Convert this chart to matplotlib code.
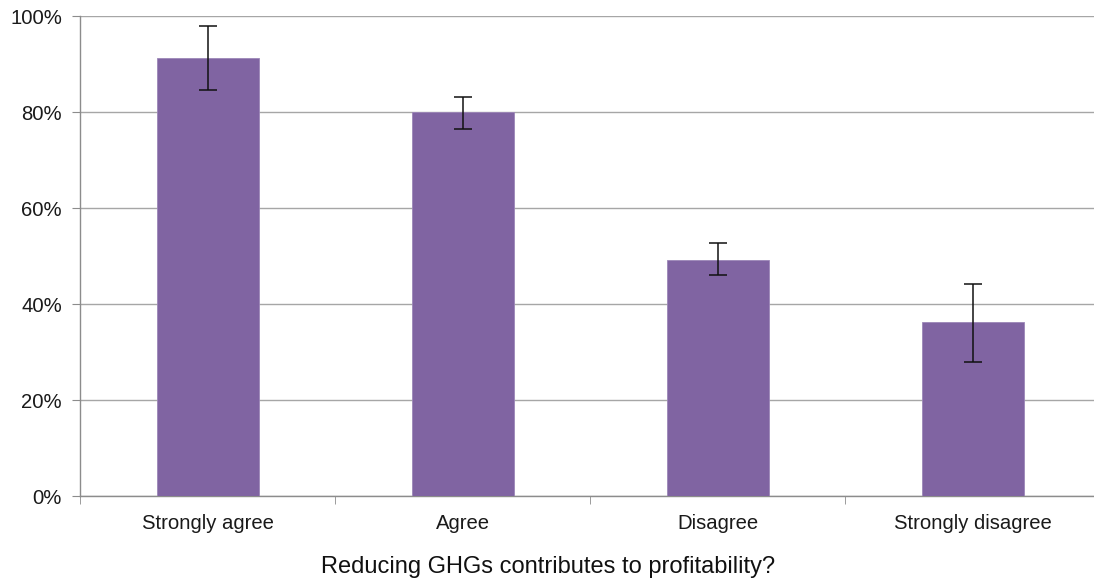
import matplotlib
matplotlib.use("Agg")
import matplotlib.pyplot as plt
from matplotlib.ticker import PercentFormatter

categories = ["Strongly agree", "Agree", "Disagree", "Strongly disagree"]
values = [91.2, 80.0, 49.1, 36.2]
err_upper = [97.9, 83.2, 52.7, 44.2]
err_lower = [84.6, 76.5, 46.0, 28.0]
y_ticks = [0, 20, 40, 60, 80, 100]
x_label = "Reducing GHGs contributes to profitability?"

plt.rcParams['font.family'] = ['Liberation Sans', 'DejaVu Sans']

W, H = 1094, 583
fig = plt.figure(figsize=(W / 100, H / 100), dpi=100)
ax = fig.add_axes([80 / W, (H - 496) / H, 1020 / W, 480 / H])

x = list(range(len(categories)))
yerr = [[v - lo for v, lo in zip(values, err_lower)],
        [hi - v for v, hi in zip(values, err_upper)]]
ax.bar(x, values, width=0.4, color="#8064A2", edgecolor="#9C86B8", linewidth=0.6, zorder=3)
ax.errorbar(x, values, yerr=yerr, fmt="none", ecolor="#111111", elinewidth=1.1,
            capsize=6.5, capthick=1.1, zorder=4)

ax.set_xlim(-0.5, len(categories) - 0.5)
ax.set_ylim(0, 100)
ax.set_yticks(y_ticks)
ax.yaxis.set_major_formatter(PercentFormatter(decimals=0))
ax.set_xticks(x)
ax.set_xticklabels(categories)
ax.set_xticks([i - 0.5 for i in range(len(categories) + 1)], minor=True)

ax.grid(axis="y", color="#A6A6A6", linewidth=1.0, zorder=0)
for s in ["top", "right"]:
    ax.spines[s].set_visible(False)
for s in ["left", "bottom"]:
    ax.spines[s].set_color("#8C8C8C")
    ax.spines[s].set_linewidth(1.0)

ax.tick_params(axis="y", which="major", length=6, color="#8C8C8C", labelsize=14.6,
               labelcolor="#1a1a1a", pad=7)
ax.tick_params(axis="x", which="major", length=0, labelsize=14.6, labelcolor="#1a1a1a", pad=13)
ax.tick_params(axis="x", which="minor", length=6, color="#8C8C8C")

fig.text(548 / W, 1 - 567 / H, x_label, ha="center", va="center", fontsize=17, color="#111111")

fig.savefig("out.png", dpi=100)
